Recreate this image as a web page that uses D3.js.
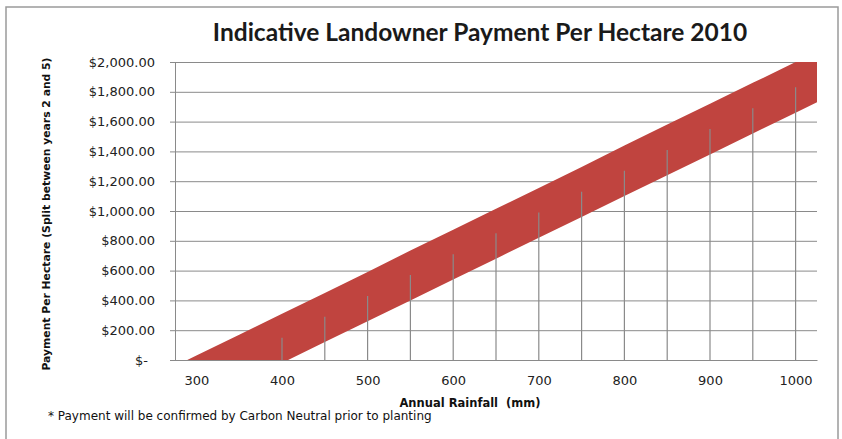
<!DOCTYPE html>
<html>
<head>
<meta charset="utf-8">
<script src="https://cdn.jsdelivr.net/npm/d3@7"></script>
<style>
  body { margin: 0; background: #fff; }
  svg { display: block; }
</style>
</head>
<body>
<svg id="chart"></svg>
<script>
// Values
const rainfall = [275, 300, 350, 400, 450, 500, 550, 600, 650, 700, 750, 800, 850, 900, 950, 1000, 1025];
const upperPayment = [-40, 30, 170, 310, 450, 590, 735, 875, 1015, 1155, 1295, 1440, 1580, 1720, 1860, 2000, 2070];
const lowerPayment = [-370, -300, -160, -20, 120, 260, 400, 540, 680, 820, 960, 1100, 1240, 1380, 1520, 1660, 1730];

// vertical lines drawn from the axis up into the band
const dropRainfall = [400, 450, 500, 550, 600, 650, 700, 750, 800, 850, 900, 950, 1000];
const dropPayment = [150, 290, 430, 570, 710, 850, 990, 1130, 1270, 1410, 1550, 1690, 1830];

const yTicks = [0, 200, 400, 600, 800, 1000, 1200, 1400, 1600, 1800, 2000];
const xTicks = [300, 400, 500, 600, 700, 800, 900, 1000];

const width = 842, height = 439;
const plot = { left: 175, right: 817, top: 62, bottom: 360 };

const svg = d3.select('#chart')
    .attr('width', width)
    .attr('height', height);

svg.append('rect')
    .attr('width', width).attr('height', height)
    .attr('fill', '#fff');

// outer chart frame
svg.append('rect')
    .attr('x', 6).attr('y', 7)
    .attr('width', 832).attr('height', 450)
    .attr('fill', 'none')
    .attr('stroke', '#9a9a9a')
    .attr('stroke-width', 1.5);

const x = d3.scaleLinear().domain([275, 1025]).range([plot.left, plot.right]);
const y = d3.scaleLinear().domain([0, 2000]).range([plot.bottom, plot.top]);

const fmt = d3.format('$,.2f');

// horizontal gridlines
svg.append('g')
    .attr('transform', `translate(${plot.left},0)`)
    .call(d3.axisLeft(y).tickValues(yTicks).tickSize(-(plot.right - plot.left)).tickFormat(''))
    .call(g => g.select('.domain').remove())
    .call(g => g.selectAll('.tick line').attr('stroke', '#8a8a8a'));

// clip the band to the plot area
svg.append('clipPath').attr('id', 'plotClip')
  .append('rect')
    .attr('x', plot.left).attr('y', plot.top)
    .attr('width', plot.right - plot.left)
    .attr('height', plot.bottom - plot.top);

const bandData = rainfall.map((r, i) => ({ r, hi: upperPayment[i], lo: lowerPayment[i] }));

const area = d3.area()
    .x(d => x(d.r))
    .y0(d => y(d.lo))
    .y1(d => y(d.hi));

svg.append('path')
    .datum(bandData)
    .attr('clip-path', 'url(#plotClip)')
    .attr('d', area)
    .attr('fill', '#c0443f');

// drop lines
svg.append('g')
    .selectAll('line')
    .data(dropRainfall.map((r, i) => ({ r, v: dropPayment[i] })))
    .join('line')
    .attr('x1', d => x(d.r)).attr('x2', d => x(d.r))
    .attr('y1', y(0)).attr('y2', d => y(d.v))
    .attr('stroke', '#8a8a8a')
    .attr('stroke-width', 1.2);

// y axis with labels
const yAxis = svg.append('g')
    .attr('transform', `translate(${plot.left},0)`)
    .call(d3.axisLeft(y).tickValues(yTicks).tickSize(5).tickPadding(15)
        .tickFormat(d => d === 0 ? '$-' : fmt(d)));
yAxis.select('.domain').attr('stroke', '#8a8a8a');
yAxis.selectAll('.tick line').attr('stroke', '#8a8a8a');
yAxis.selectAll('.tick text')
    .attr('fill', '#222')
    .style('font-family', 'DejaVu Sans, Verdana, sans-serif')
    .style('font-size', '13px');
yAxis.selectAll('.tick').filter(d => d === 0).select('text').attr('dx', -7);

// x axis
const xAxis = svg.append('g')
    .attr('transform', `translate(0,${plot.bottom})`)
    .call(d3.axisBottom(x).tickValues(xTicks).tickSize(0).tickPadding(16).tickFormat(d3.format('d')));
xAxis.select('.domain').attr('stroke', '#8a8a8a');
xAxis.selectAll('.tick text')
    .attr('fill', '#222')
    .style('font-family', 'DejaVu Sans, Verdana, sans-serif')
    .style('font-size', '13px');

// title
svg.append('text')
    .attr('x', 480).attr('y', 41)
    .attr('text-anchor', 'middle')
    .attr('fill', '#1a1a1a')
    .style('font-family', 'Lato, sans-serif')
    .style('font-weight', 'bold')
    .style('font-size', '24.5px')
    .text('Indicative Landowner Payment Per Hectare 2010');

// axis titles
svg.append('text')
    .attr('x', 470).attr('y', 407)
    .attr('text-anchor', 'middle')
    .attr('fill', '#111')
    .style('font-family', 'DejaVu Sans, Verdana, sans-serif')
    .style('font-weight', 'bold')
    .style('font-size', '11.5px')
    .attr('xml:space', 'preserve')
    .text('Annual Rainfall  (mm)');

svg.append('text')
    .attr('transform', 'translate(50,214) rotate(-90)')
    .attr('text-anchor', 'middle')
    .attr('fill', '#111')
    .style('font-family', 'DejaVu Sans, Verdana, sans-serif')
    .style('font-weight', 'bold')
    .style('font-size', '10.8px')
    .text('Payment Per Hectare (Split between years 2 and 5)');

// footnote
svg.append('text')
    .attr('x', 48).attr('y', 420)
    .attr('fill', '#111')
    .style('font-family', 'DejaVu Sans, Verdana, sans-serif')
    .style('font-size', '12px')
    .text('* Payment will be confirmed by Carbon Neutral prior to planting');
</script>
</body>
</html>
